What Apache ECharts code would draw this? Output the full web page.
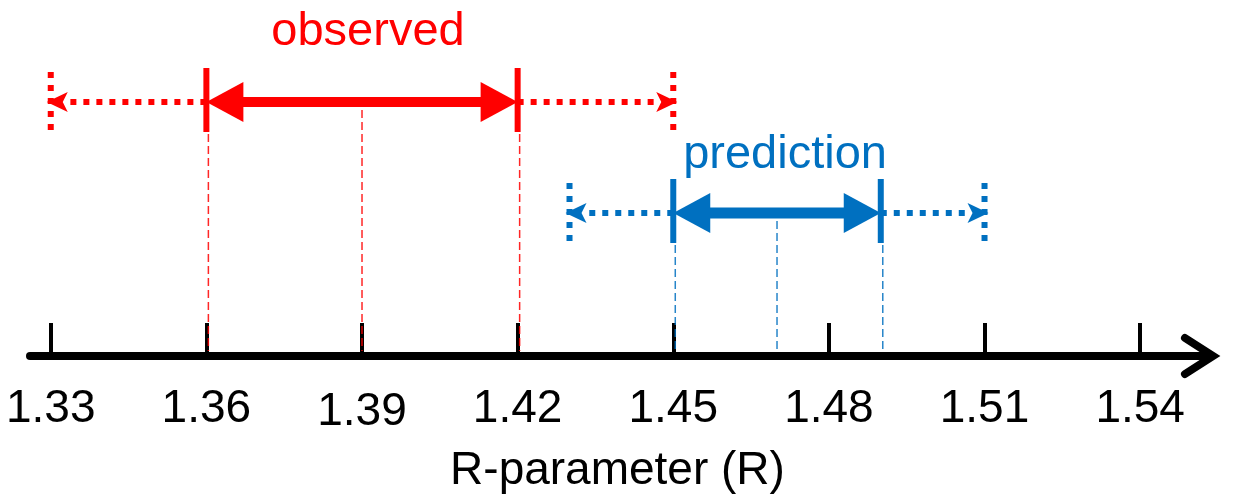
<!DOCTYPE html>
<html>
<head>
<meta charset="utf-8">
<title>R-parameter: observed vs prediction</title>
<script src="https://cdn.jsdelivr.net/npm/echarts@6/dist/echarts.min.js"></script>
<style>
  html, body { margin: 0; padding: 0; background: #ffffff; }
  #chart { width: 1239px; height: 497px; }
</style>
</head>
<body>
<div id="chart"></div>
<script>
// Tick values shown on the R axis
const tickValues = [1.33, 1.36, 1.39, 1.42, 1.45, 1.48, 1.51, 1.54];

// Intervals: [outer low, low, centre, high, outer high]
const observedInterval = [1.33, 1.36, 1.39, 1.42, 1.45];
const predictionInterval = [1.43, 1.45, 1.47, 1.49, 1.51];

const RED = '#ff0000';
const BLUE = '#0070c0';
const FONT = '"Liberation Sans", Arial, sans-serif';

// Draws one interval row: a solid inner range with filled arrowheads, a dotted
// outer range with small arrowheads, and thin dashed drop lines to the axis.
function intervalRenderer(cfg) {
  return function (params, api) {
    const lo2 = api.value(0), lo1 = api.value(1), mid = api.value(2),
          hi1 = api.value(3), hi2 = api.value(4);
    const y = api.coord([lo1, cfg.level])[1];
    const yAxis = api.coord([lo1, 0])[1];
    const X = v => api.coord([v, cfg.level])[0];
    const xLo2 = X(lo2), xLo1 = X(lo1), xMid = X(mid), xHi1 = X(hi1), xHi2 = X(hi2);
    const c = cfg.color;
    const children = [];

    const dotted = { stroke: c, lineWidth: 6, lineDash: [6, 7], lineCap: 'butt' };
    // dotted outer range
    children.push({ type: 'line', shape: { x1: xLo1, y1: y, x2: xLo2 + 14, y2: y }, style: dotted });
    children.push({ type: 'line', shape: { x1: xHi1, y1: y, x2: xHi2 - 14, y2: y }, style: dotted });
    // dotted end bars
    children.push({ type: 'line', shape: { x1: xLo2, y1: y - 30, x2: xLo2, y2: y + 32 }, style: dotted });
    children.push({ type: 'line', shape: { x1: xHi2, y1: y - 30, x2: xHi2, y2: y + 32 }, style: dotted });
    // small notched arrowheads at the outer ends
    children.push({ type: 'polygon', shape: { points: [[xLo2 - 4, y], [xLo2 + 17, y - 10], [xLo2 + 12, y], [xLo2 + 17, y + 10]] }, style: { fill: c } });
    children.push({ type: 'polygon', shape: { points: [[xHi2 + 4, y], [xHi2 - 17, y - 10], [xHi2 - 12, y], [xHi2 - 17, y + 10]] }, style: { fill: c } });

    // dashed drop lines to the axis
    const guide = { stroke: c, lineWidth: 1.5, lineDash: [8, 4], opacity: 0.85 };
    children.push({ type: 'line', shape: { x1: xLo1 + 2, y1: y + 32, x2: xLo1 + 2, y2: yAxis - 5 }, style: guide });
    children.push({ type: 'line', shape: { x1: xHi1 + 2, y1: y + 32, x2: xHi1 + 2, y2: yAxis - 5 }, style: guide });
    children.push({ type: 'line', shape: { x1: xMid, y1: y + 8, x2: xMid, y2: yAxis - 5 }, style: guide });

    // solid inner range
    children.push({ type: 'line', shape: { x1: xLo1 + 20, y1: y, x2: xHi1 - 20, y2: y }, style: { stroke: c, lineWidth: cfg.width } });
    children.push({ type: 'polygon', shape: { points: [[xLo1, y], [xLo1 + 37, y - 20], [xLo1 + 37, y + 20]] }, style: { fill: c } });
    children.push({ type: 'polygon', shape: { points: [[xHi1, y], [xHi1 - 37, y - 20], [xHi1 - 37, y + 20]] }, style: { fill: c } });
    // solid end bars
    children.push({ type: 'line', shape: { x1: xLo1, y1: y - 34, x2: xLo1, y2: y + 30 }, style: { stroke: c, lineWidth: 6 } });
    children.push({ type: 'line', shape: { x1: xHi1, y1: y - 34, x2: xHi1, y2: y + 30 }, style: { stroke: c, lineWidth: 6 } });

    // row title
    children.push({
      type: 'text',
      style: {
        text: cfg.title, x: xMid + cfg.titleDx, y: y + cfg.titleDy,
        fill: c, font: '47px ' + FONT, align: 'center', verticalAlign: 'middle'
      }
    });
    return { type: 'group', children: children };
  };
}

// Open chevron at the right end of the axis line
function axisArrowRenderer(params, api) {
  const cs = params.coordSys;
  const end = cs.x + cs.width;
  const yA = cs.y + cs.height;
  return {
    type: 'polyline',
    shape: { points: [[end - 20, yA - 18], [end + 8, yA], [end - 20, yA + 18]] },
    style: { stroke: '#000', lineWidth: 8, fill: null, lineJoin: 'miter', lineCap: 'round' }
  };
}

const chart = echarts.init(document.getElementById('chart'), null, { renderer: 'canvas' });

chart.setOption({
  animation: false,
  backgroundColor: '#ffffff',
  grid: { left: 30, right: 34, top: 0, bottom: 141, containLabel: false, outerBoundsMode: 'none' },
  xAxis: {
    type: 'value',
    min: 1.326,
    max: 1.5525,
    name: 'R-parameter (R)',
    nameLocation: 'middle',
    nameGap: 92,
    nameTextStyle: { fontSize: 46, fontFamily: FONT, color: '#000' },
    axisLine: { show: true, onZero: false, lineStyle: { color: '#000', width: 8 } },
    axisTick: {
      show: true, inside: true, length: 33, customValues: tickValues,
      lineStyle: { color: '#000', width: 4 }
    },
    axisLabel: {
      show: true, customValues: tickValues, margin: 30,
      fontSize: 46, fontFamily: FONT, color: '#000',
      formatter: v => (v.toFixed(2) === '1.39' ? '{low|' + v.toFixed(2) + '}' : v.toFixed(2)),
      rich: { low: { fontSize: 46, fontFamily: FONT, color: '#000', padding: [3, 0, 0, 0] } }
    },
    splitLine: { show: false }
  },
  yAxis: { type: 'value', min: 0, max: 1, show: false },
  series: [
    {
      type: 'custom', name: 'observed',
      data: [observedInterval], encode: { x: [0, 1, 2, 3, 4] },
      renderItem: intervalRenderer({ level: 0.7135, color: RED, width: 10, title: 'observed', titleDx: 6, titleDy: -70 }),
      z: 3
    },
    {
      type: 'custom', name: 'prediction',
      data: [predictionInterval], encode: { x: [0, 1, 2, 3, 4] },
      renderItem: intervalRenderer({ level: 0.4017, color: BLUE, width: 11, title: 'prediction', titleDx: 8, titleDy: -58 }),
      z: 3
    },
    {
      type: 'custom', name: 'axis arrow',
      data: [[tickValues[tickValues.length - 1]]], encode: { x: 0 },
      renderItem: axisArrowRenderer, z: 4, silent: true
    }
  ]
});
</script>
</body>
</html>
